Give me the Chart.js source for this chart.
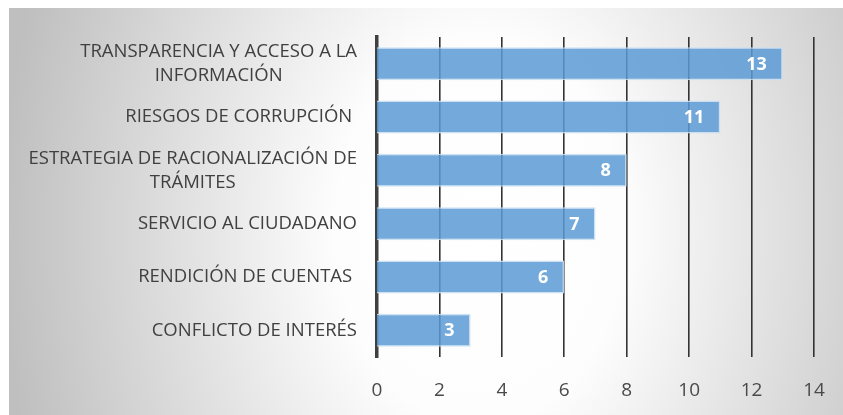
<!DOCTYPE html>
<html>
<head>
<meta charset="utf-8">
<script src="https://cdn.jsdelivr.net/npm/chart.js@4/dist/chart.umd.min.js"></script>
<style>
    html, body { margin: 0; padding: 0; background: #fff; }
    #wrap { width: 843px; height: 415px; position: relative; }
</style>
</head>
<body>
<div id="wrap"><canvas id="grafico"></canvas></div>
<script>
const categorias = [
    ['TRANSPARENCIA Y ACCESO A LA', 'INFORMACIÓN'],
    ['RIESGOS DE CORRUPCIÓN '],
    ['ESTRATEGIA DE RACIONALIZACIÓN DE', 'TRÁMITES'],
    ['SERVICIO AL CIUDADANO'],
    ['RENDICIÓN DE CUENTAS '],
    ['CONFLICTO DE INTERÉS']
];
const valores = [13, 11, 8, 7, 6, 3];
const escalaMin = 0;
const escalaMax = 14;
const escalaPaso = 2;

const FONTE = "'Open Sans', 'DejaVu Sans', sans-serif";

// fundo com degradê radial, como no Excel
const fundoPlugin = {
    id: 'fundo',
    beforeDraw(chart) {
        const { ctx, width, height } = chart;
        ctx.save();
        ctx.fillStyle = '#fff';
        ctx.fillRect(0, 0, width, height);
        const cx = 480, cy = 230;
        ctx.translate(cx, cy);
        ctx.scale(1, 1.35);
        const grad = ctx.createRadialGradient(0, 0, 0, 0, 0, 480);
        grad.addColorStop(0, '#ffffff');
        grad.addColorStop(0.3, '#fdfdfd');
        grad.addColorStop(1, '#bfbfbf');
        ctx.fillStyle = grad;
        ctx.fillRect((9 - cx), (8 - cy) / 1.35, (width - 9), (height - 8) / 1.35);
        ctx.restore();
    }
};

// rótulos das categorias: bloco alinhado à direita, linhas centralizadas
const rotulosPlugin = {
    id: 'rotulosCategorias',
    afterDraw(chart) {
        const { ctx } = chart;
        const y = chart.scales.y;
        const direita = 357;
        const alturaLinha = 24;
        ctx.save();
        ctx.font = '18.5px ' + FONTE;
        ctx.fillStyle = '#404040';
        ctx.textAlign = 'center';
        ctx.textBaseline = 'middle';
        categorias.forEach((linhas, i) => {
            const largura = Math.max(...linhas.map(l => ctx.measureText(l).width));
            const centroX = direita - largura / 2;
            const centroY = y.getPixelForValue(i);
            const topo = centroY - (linhas.length - 1) * alturaLinha / 2;
            linhas.forEach((l, j) => ctx.fillText(l, centroX, topo + j * alturaLinha));
        });
        ctx.restore();
    }
};

// valores dentro da ponta das barras
const valoresPlugin = {
    id: 'valoresBarras',
    afterDatasetsDraw(chart) {
        const { ctx } = chart;
        const meta = chart.getDatasetMeta(0);
        ctx.save();
        ctx.font = 'bold 18px ' + FONTE;
        ctx.fillStyle = '#ffffff';
        ctx.textAlign = 'right';
        ctx.textBaseline = 'middle';
        meta.data.forEach((bar, i) => {
            ctx.fillText(String(valores[i]), bar.x - 16, bar.y + 1);
        });
        ctx.restore();
    }
};

new Chart(document.getElementById('grafico').getContext('2d'), {
    type: 'bar',
    data: {
        labels: categorias,
        datasets: [{
            data: valores,
            backgroundColor: 'rgba(91, 155, 213, 0.85)',
            borderColor: 'rgba(200, 222, 242, 0.9)',
            borderWidth: 1.5,
            borderSkipped: 'start',
            barPercentage: 0.62,
            categoryPercentage: 1
        }]
    },
    options: {
        indexAxis: 'y',
        responsive: true,
        maintainAspectRatio: false,
        animation: false,
        layout: { padding: { top: 37, right: 29, bottom: 0, left: 0 } },
        plugins: {
            legend: { display: false },
            tooltip: { enabled: false }
        },
        scales: {
            x: {
                min: escalaMin,
                max: escalaMax,
                ticks: {
                    stepSize: escalaPaso,
                    color: '#4a4a4a',
                    padding: 22,
                    font: { family: FONTE, size: 19 }
                },
                grid: {
                    color: '#333333',
                    lineWidth: ctx => (ctx.tick && ctx.tick.value === 0 ? 0 : 1.6),
                    drawTicks: false
                },
                border: { display: false },
                afterFit(scale) {
                    scale.height = 58;
                    scale.paddingRight = 0;
                }
            },
            y: {
                ticks: { display: false },
                grid: { display: false },
                border: { display: true, color: '#404040', width: 3.5 },
                afterFit(scale) { scale.width = 377; }
            }
        }
    },
    plugins: [fundoPlugin, rotulosPlugin, valoresPlugin]
});
</script>
</body>
</html>
